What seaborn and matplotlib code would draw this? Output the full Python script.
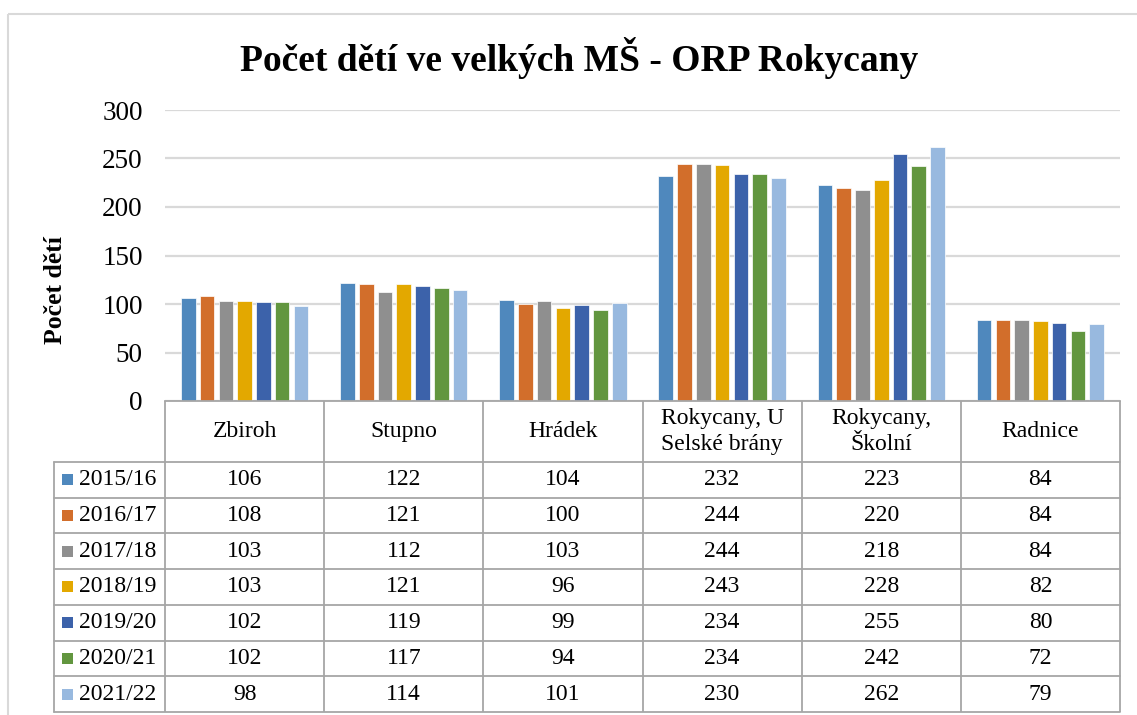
import matplotlib
matplotlib.use("Agg")
import matplotlib.pyplot as plt
from matplotlib.patches import Rectangle
import pandas as pd
import seaborn as sns

# data
schools = ["Zbiroh", "Stupno", "Hrádek", "Rokycany, U\nSelské brány", "Rokycany,\nŠkolní", "Radnice"]
years = ["2015/16", "2016/17", "2017/18", "2018/19", "2019/20", "2020/21", "2021/22"]
v_2015 = [106, 122, 104, 232, 223, 84]
v_2016 = [108, 121, 100, 244, 220, 84]
v_2017 = [103, 112, 103, 244, 218, 84]
v_2018 = [103, 121, 96, 243, 228, 82]
v_2019 = [102, 119, 99, 234, 255, 80]
v_2020 = [102, 117, 94, 234, 242, 72]
v_2021 = [98, 114, 101, 230, 262, 79]
series = [v_2015, v_2016, v_2017, v_2018, v_2019, v_2020, v_2021]
colors = ["#4F88BD", "#D26E2B", "#8F8F8F", "#E3A800", "#3C62AA", "#62963F", "#98B9DF"]

title = "Počet dětí ve velkých MŠ - ORP Rokycany"
ylabel = "Počet dětí"

sns.set_style("white")
plt.rcParams["font.family"] = ["Liberation Serif", "DejaVu Serif"]
plt.rcParams["text.color"] = "black"
plt.rcParams["ytick.color"] = "black"

W, H = 1137, 715
fig = plt.figure(figsize=(W / 100, H / 100), dpi=100)

rows = []
for yr, vals in zip(years, series):
    for s, v in zip(schools, vals):
        rows.append({"school": s, "year": yr, "count": v})
df = pd.DataFrame(rows)

ax_left, ax_right, ax_top, ax_bot = 165, 1120, 110, 401
ax = fig.add_axes([ax_left / W, 1 - ax_bot / H, (ax_right - ax_left) / W, (ax_bot - ax_top) / H])
sns.barplot(data=df, x="school", y="count", hue="year", palette=colors,
            width=0.825, gap=0.22, ax=ax, legend=False, saturation=1,
            edgecolor="white", linewidth=0.5)
ax.set_xlim(-0.5, len(schools) - 0.5)
ax.set_ylim(0, 300)
ax.set_yticks(range(0, 301, 50))
ax.yaxis.grid(True, color="#D9D9D9", lw=1.6)
ax.set_axisbelow(True)
for sp in ["left", "right", "top"]:
    ax.spines[sp].set_visible(False)
ax.spines["bottom"].set_color("#A6A6A6")
ax.spines["bottom"].set_linewidth(1.3)
ax.set_xticks([])
ax.set_xlabel("")
ax.set_ylabel("")
ax.tick_params(axis="y", length=0, pad=16, labelsize=19.5, labelcolor="black")

fig.text(579 / W, 1 - 58 / H, title, ha="center", va="center", fontsize=27, fontweight="bold")
fig.text(56 / W, 1 - 290 / H, ylabel, ha="center", va="center", rotation=90,
         fontsize=18.5, fontweight="bold")

# overlay in pixel coordinates for the data table
ov = fig.add_axes([0, 0, 1, 1])
ov.set_xlim(0, W)
ov.set_ylim(H, 0)
ov.axis("off")

fig.canvas.draw()
def col_px(x):
    return ax.transData.transform((x, 0))[0]

edges = [col_px(i - 0.5) for i in range(len(schools) + 1)]
lab_left = 54
head_bot = 462
row_h = 35.7
tab_bot = head_bot + row_h * len(years)
lc = "#A6A6A6"
lw = 1.3
fs = 17

for x in edges:
    ov.plot([x, x], [ax_bot, tab_bot], color=lc, lw=lw, solid_capstyle="butt")
ov.plot([lab_left, lab_left], [head_bot, tab_bot], color=lc, lw=lw)
for k in range(len(years) + 1):
    y = head_bot + k * row_h
    ov.plot([lab_left, edges[-1]], [y, y], color=lc, lw=lw)

for i, s in enumerate(schools):
    cx = (edges[i] + edges[i + 1]) / 2
    ov.text(cx, (ax_bot + head_bot) / 2, s, ha="center", va="center", fontsize=fs,
            linespacing=1.3)

for k, (yr, vals, c) in enumerate(zip(years, series, colors)):
    cy = head_bot + (k + 0.5) * row_h
    ov.add_patch(Rectangle((62, cy - 5.5), 11, 11, color=c, lw=0))
    ov.text(79, cy, yr, ha="left", va="center", fontsize=fs)
    for i, v in enumerate(vals):
        cx = (edges[i] + edges[i + 1]) / 2
        ov.text(cx, cy, str(v), ha="center", va="center", fontsize=fs)

# chart frame
ov.add_patch(Rectangle((8, 14), W + 20, H + 20, fill=False, edgecolor="#D9D9D9", lw=1.5,
                       clip_on=False))

fig.savefig("out.png", dpi=100)
